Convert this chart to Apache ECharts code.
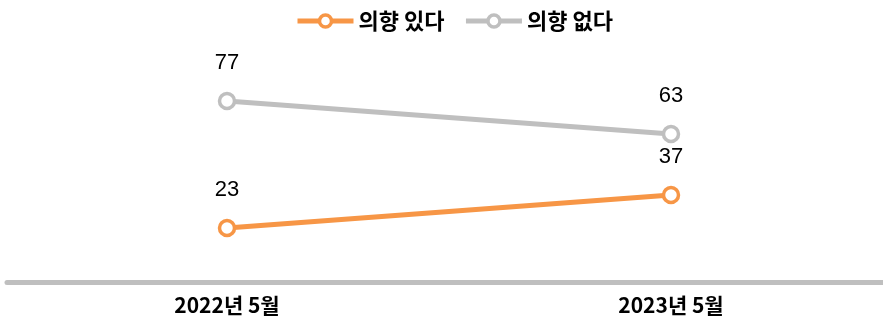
<!DOCTYPE html>
<html><head><meta charset="utf-8">
<script src="https://cdn.jsdelivr.net/npm/echarts@6/dist/echarts.min.js"></script>
<style>html,body{margin:0;padding:0;background:#fff}#c{width:883px;height:327px}</style>
</head><body><div id="c"></div>
<script>
const categories = ['2022년 5월', '2023년 5월'];
const seriesNames = ['의향 있다', '의향 없다'];
const yesValues = [23, 37];
const noValues = [77, 63];
const colors = ['#F79646', '#BFBFBF'];

const chart = echarts.init(document.getElementById('c'));
const mk = (name, data, color) => ({
  name, type: 'line', data, xAxisIndex: 0, yAxisIndex: 0, clip: false,
  symbol: 'circle', symbolSize: 15,
  lineStyle: { width: 5, color },
  itemStyle: { color: '#fff', borderWidth: 3.5, borderColor: color },
  label: { show: true, position: 'top', distance: 18, color: '#000',
    fontFamily: 'Liberation Sans, Arial, sans-serif', fontSize: 22 },
  emphasis: { disabled: true }
});
chart.setOption({
  animation: false,
  color: colors,
  legend: {
    top: 5, left: 290,
    itemWidth: 56, itemHeight: 15, itemGap: 19,
    lineStyle: { width: 5 },
    itemStyle: { color: '#fff', borderWidth: 3.5 },
    textStyle: { fontFamily: 'Noto Sans CJK KR', fontWeight: 'bold', fontSize: 22, color: '#000' },
    data: seriesNames
  },
  grid: [
    { left: 227, right: 212, top: 47, bottom: 45 },
    { left: 7, right: 0, top: 47, bottom: 45 }
  ],
  xAxis: [{
    gridIndex: 0, type: 'category', data: categories, boundaryGap: false,
    axisLine: { show: false },
    axisTick: { show: false },
    axisLabel: { margin: 13, color: '#000', fontFamily: 'Noto Sans CJK KR', fontSize: 21, fontWeight: 'bold' }
  }, {
    gridIndex: 1, type: 'category', data: categories,
    axisLine: { lineStyle: { color: '#BFBFBF', width: 5 } },
    axisTick: { show: false }, axisLabel: { show: false }
  }],
  yAxis: [
    { gridIndex: 0, type: 'value', min: 0, max: 100, show: false },
    { gridIndex: 1, type: 'value', min: 0, max: 100, show: false }
  ],
  series: [mk(seriesNames[0], yesValues, colors[0]), mk(seriesNames[1], noValues, colors[1])]
});
</script></body></html>
